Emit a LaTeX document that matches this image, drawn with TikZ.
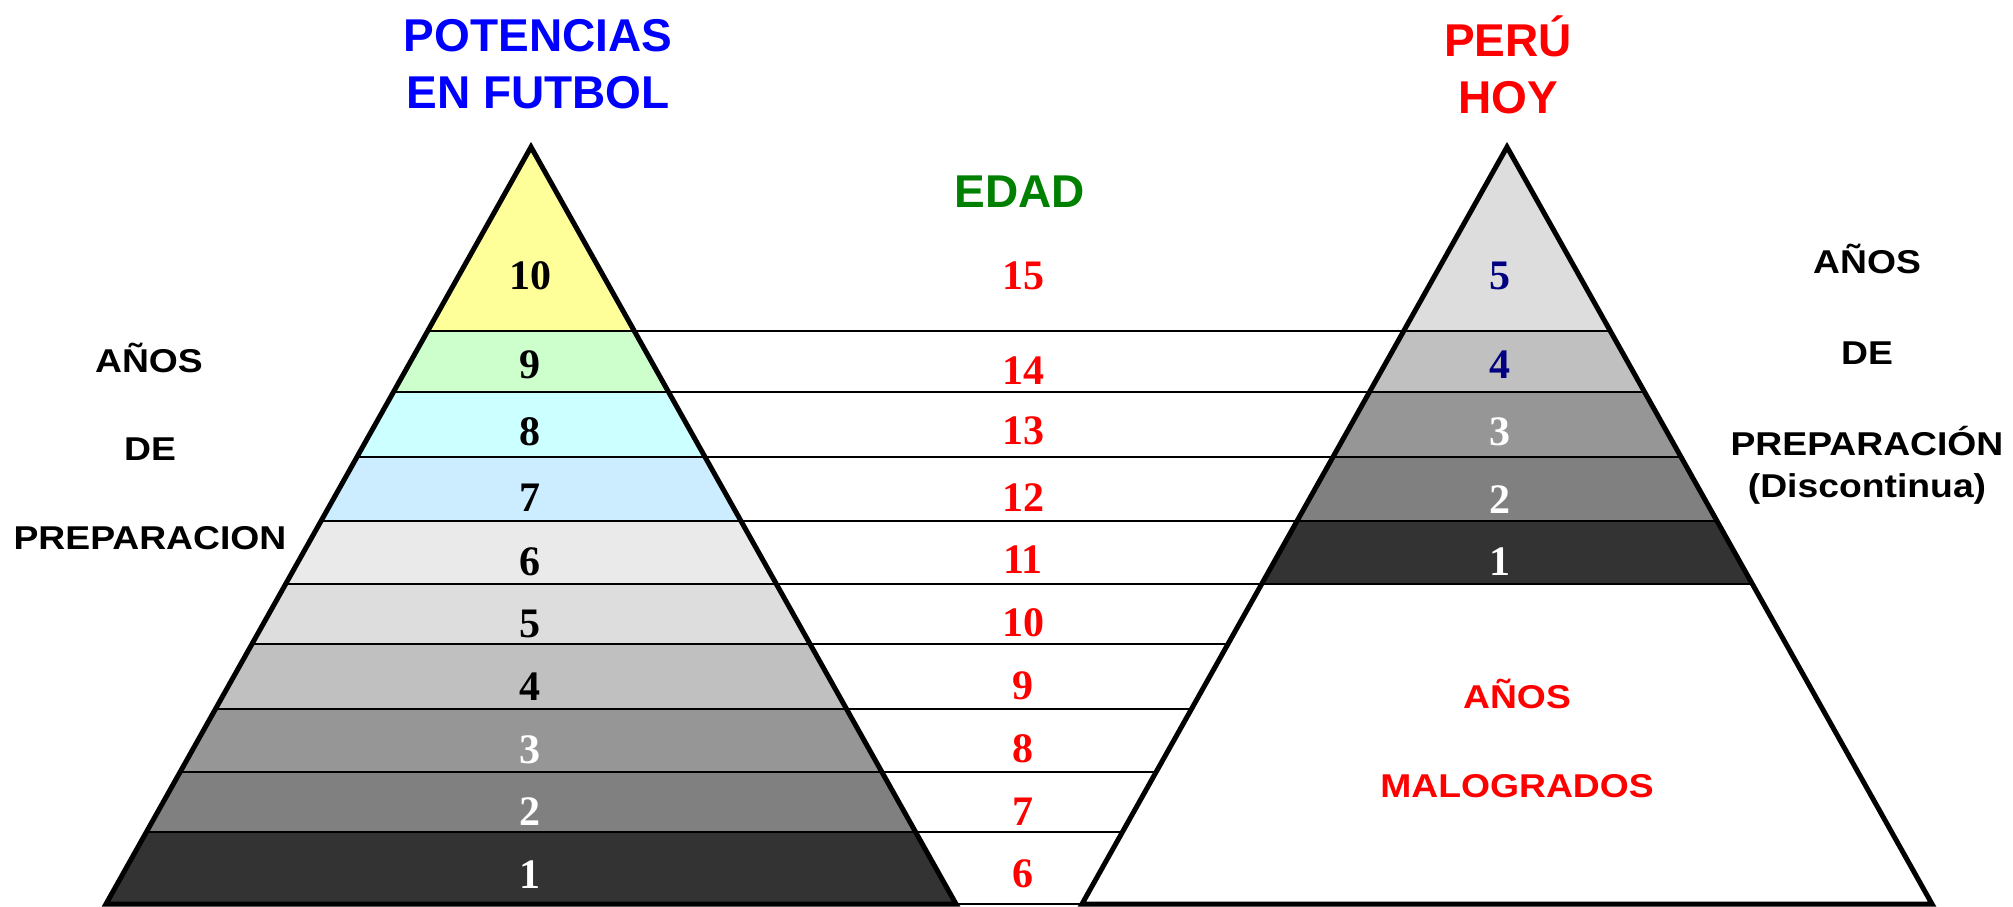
\documentclass[tikz,border=0pt]{standalone}
\usepackage{fontspec}
\setmainfont{Liberation Serif}
\setsansfont{Liberation Sans}
\newfontfamily\widesans[FakeStretch=1.13]{Liberation Sans}
\usetikzlibrary{calc}
\definecolor{cyel}{HTML}{FFFF99}
\definecolor{cgrn}{HTML}{CCFFCC}
\definecolor{ccya}{HTML}{CCFFFF}
\definecolor{cblu}{HTML}{CCECFF}
\definecolor{gA}{HTML}{EAEAEA}
\definecolor{gB}{HTML}{DDDDDD}
\definecolor{gC}{HTML}{C0C0C0}
\definecolor{gD}{HTML}{969696}
\definecolor{gE}{HTML}{808080}
\definecolor{gF}{HTML}{333333}
\definecolor{navyblue}{HTML}{000080}
\definecolor{dgreen}{HTML}{008000}
\definecolor{pureblue}{HTML}{0000FF}
\definecolor{purered}{HTML}{FF0000}
\begin{document}
\begin{tikzpicture}[x=1pt,y=-1pt,
  outline/.style={line width=5pt, line join=miter},
  divider/.style={line width=2pt},
  link/.style={line width=1.8pt},
  num/.style={font=\fontsize{42}{42}\selectfont\bfseries, anchor=base, inner sep=0pt},
  title/.style={font=\sffamily\bfseries\fontsize{46}{46}\selectfont, anchor=base, inner sep=0pt},
  side/.style={font=\widesans\bfseries\fontsize{33}{33}\selectfont, anchor=base, inner sep=0pt}]
\useasboundingbox (0,0) rectangle (2013,907);
% triangles
\coordinate (LA) at (531,147);
\coordinate (LB) at (106,904);
\coordinate (LC) at (956,904);
\coordinate (RA) at (1507,147);
\coordinate (RB) at (1082,904);
\coordinate (RC) at (1932,904);
\foreach \i/\t in {1/0.2431,2/0.3236,3/0.4095,4/0.4941,5/0.5773,6/0.6565,7/0.7424,8/0.8256,9/0.9049,10/1}{
  \coordinate (Ll\i) at ($(LA)!\t!(LB)$);
  \coordinate (Lr\i) at ($(LA)!\t!(LC)$);
  \coordinate (Rl\i) at ($(RA)!\t!(RB)$);
  \coordinate (Rr\i) at ($(RA)!\t!(RC)$);
}
% left bands
\fill[cyel] (LA) -- (Lr1) -- (Ll1) -- cycle;
\foreach \i/\j/\c in {1/2/cgrn,2/3/ccya,3/4/cblu,4/5/gA,5/6/gB,6/7/gC,7/8/gD,8/9/gE,9/10/gF}
  \fill[\c] (Ll\i) -- (Lr\i) -- (Lr\j) -- (Ll\j) -- cycle;
% right bands
\fill[gB] (RA) -- (Rr1) -- (Rl1) -- cycle;
\foreach \i/\j/\c in {1/2/gC,2/3/gD,3/4/gE,4/5/gF}
  \fill[\c] (Rl\i) -- (Rr\i) -- (Rr\j) -- (Rl\j) -- cycle;
% dividers
\foreach \i in {1,...,9} \draw[divider] (Ll\i) -- (Lr\i);
\foreach \i in {1,...,5} \draw[divider] (Rl\i) -- (Rr\i);
% links
\foreach \i in {1,...,10} \draw[link] (Lr\i) -- (Rl\i);
% outlines
\draw[outline] (LA) -- (LB) -- (LC) -- cycle;
\draw[outline] (RA) -- (RB) -- (RC) -- cycle;
% numbers left
\foreach \n/\y/\c in {10/289/black,9/378/black,8/445/black,7/511/black,6/575/black,5/637/black,4/700/black,3/763/white,2/825/white,1/888/white}
  \node[num, text=\c] (ln\n) at (530,\y) {\n};
% numbers right
\foreach \n/\y/\c in {5/289/navyblue,4/378/navyblue,3/445/white,2/513/white,1/575/white}
  \node[num, text=\c] (rn\n) at (1500,\y) {\n};
% ages
\foreach \n/\y in {15/289,14/384,13/444,12/511,11/573,10/636,9/699,8/762,7/825,6/887}
  \node[num, text=purered] (age\n) at (1023,\y) {\n};
% titles
\node[title, text=pureblue] (t1) at (538,52) {POTENCIAS};
\node[title, text=pureblue] (t2) at (538,108) {EN FUTBOL};
\node[title, text=purered] (t3) at (1508,57) {PERÚ};
\node[title, text=purered] (t4) at (1508,113) {HOY};
\node[title, text=dgreen] (edad) at (1020,207) {EDAD};
% side labels
\node[side] (la1) at (149,372) {AÑOS};
\node[side] (la2) at (150,460) {DE};
\node[side] (la3) at (150,549) {PREPARACION};
\node[side] (ra1) at (1867,273) {AÑOS};
\node[side] (ra2) at (1867,364) {DE};
\node[side] (ra3) at (1867,455) {PREPARACIÓN};
\node[side] (ra4) at (1867,497) {(Discontinua)};
\node[side, text=purered] (ma1) at (1517,708) {AÑOS};
\node[side, text=purered] (ma2) at (1517,797) {MALOGRADOS};
\end{tikzpicture}
\end{document}
